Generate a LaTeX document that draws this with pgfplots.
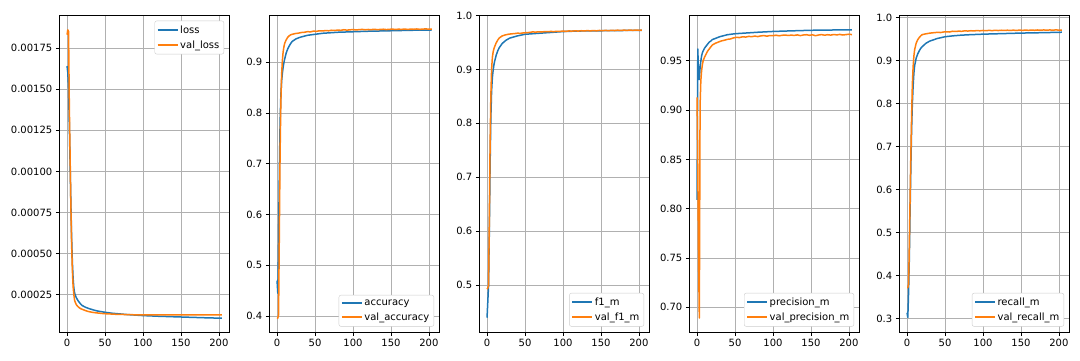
\documentclass[border=0pt]{standalone}
\usepackage{fontspec}
\setmainfont{DejaVu Sans}
\usepackage{pgfplots}
\pgfplotsset{compat=1.18}
\definecolor{mblue}{HTML}{1F77B4}
\definecolor{morange}{HTML}{FF7F0E}
\definecolor{mgrid}{HTML}{B0B0B0}
\definecolor{mleg}{HTML}{CCCCCC}
\pgfplotsset{
  mpl/.style={
    scale only axis, width=170.4pt, height=317.3pt,
    xmin=-10.2, xmax=214.2, xtick={0,50,100,150,200},
    grid=major, major grid style={color=mgrid, line width=0.8pt},
    axis line style={line width=0.8pt},
    every tick/.style={black, line width=0.8pt},
    tick align=outside, major tick length=3.5pt,
    xtick pos=bottom, ytick pos=left,
    ticklabel style={font=\fontsize{10}{12}\selectfont},
    scaled ticks=false,
    /pgf/number format/assume math mode=true,
    legend cell align=left,
    legend style={draw=mleg, rounded corners=2pt, fill=white,
      font=\fontsize{10}{12}\selectfont, inner sep=3pt, row sep=3pt, column sep=1pt,
      nodes={inner sep=1.5pt}},
  },
  legtop/.style={legend style={at={(0.967,0.982)}, anchor=north east}},
  legbot/.style={legend style={at={(0.967,0.018)}, anchor=south east}},
  lb/.style={legend image code/.code={\node[inner sep=0pt, outer sep=0pt, anchor=west, draw=none, fill=none] at (0pt,0pt) {\textcolor{mblue}{\rule[-1pt]{20pt}{2pt}}};}},
  lo/.style={legend image code/.code={\node[inner sep=0pt, outer sep=0pt, anchor=west, draw=none, fill=none] at (0pt,0pt) {\textcolor{morange}{\rule[-1pt]{20pt}{2pt}}};}},
}
\begin{document}
\begin{tikzpicture}
\path[use as bounding box] (0,0) rectangle (1080pt,360pt);
% ---------------- loss
\begin{axis}[mpl, legtop, at={(59.3pt,27.7pt)}, anchor=south west,
  ymin=0.0000225, ymax=0.00195,
  ytick={0.00025,0.0005,0.00075,0.001,0.00125,0.0015,0.00175},
  yticklabels={0.00025,0.00050,0.00075,0.00100,0.00125,0.00150,0.00175}]
\addlegendimage{lb}\addlegendimage{lo}
\addplot[forget plot, draw=mblue, line width=1.5pt, line join=round] coordinates {(0,0.00164)(1,0.00160)(2,0.00150)(3,0.00128)(4,0.00105)(5,0.00082)(6,0.00060)(7,0.00045)(8,0.00035)(9,0.00029)(10,0.00026)(12,0.000235)(14,0.000218)(16,0.000205)(18,0.000194)(20,0.000185)(25,0.000173)(30,0.000165)(35,0.000158)(40,0.000152)(45,0.000148)(50,0.000144)(60,0.000138)(70,0.000134)(80,0.000130)(90,0.000127)(100,0.000124)(120,0.000120)(140,0.000117)(160,0.000114)(180,0.000111)(204,0.000108)};
\addplot[forget plot, draw=morange, line width=1.5pt, line join=round] coordinates {(0,0.00183)(1,0.00186)(2,0.00185)(3,0.00140)(4,0.00110)(5,0.00080)(6,0.00056)(7,0.00040)(8,0.00030)(9,0.000250)(10,0.000215)(12,0.000192)(14,0.000180)(16,0.000172)(18,0.000166)(20,0.000162)(24,0.000155)(28,0.000149)(32,0.000145)(36,0.000142)(40,0.000140)(48,0.000136)(56,0.000134)(64,0.000132)(72,0.000131)(80,0.000130)(88,0.000129)(96,0.000129)(104,0.000128)(112,0.000129)(120,0.000128)(128,0.000129)(136,0.000128)(144,0.000129)(152,0.000128)(160,0.000129)(168,0.000128)(176,0.000129)(184,0.000128)(192,0.000129)(200,0.000128)(204,0.000129)};
\legend{loss,val\_loss}
\end{axis}
% ---------------- accuracy
\begin{axis}[mpl, legbot, at={(269.3pt,27.7pt)}, anchor=south west,
  ymin=0.368, ymax=0.993,
  ytick={0.4,0.5,0.6,0.7,0.8,0.9}, yticklabels={0.4,0.5,0.6,0.7,0.8,0.9}]
\addlegendimage{lb}\addlegendimage{lo}
\addplot[forget plot, draw=mblue, line width=1.5pt, line join=round] coordinates {(0,0.470)(1,0.445)(2,0.550)(3,0.680)(4,0.780)(5,0.835)(6,0.862)(7,0.878)(8,0.890)(9,0.899)(10,0.906)(12,0.918)(14,0.926)(16,0.932)(18,0.937)(20,0.941)(25,0.946)(30,0.949)(40,0.953)(50,0.955)(60,0.957)(70,0.958)(80,0.959)(100,0.960)(120,0.961)(150,0.962)(180,0.963)(204,0.9635)};
\addplot[forget plot, draw=morange, line width=1.5pt, line join=round] coordinates {(0,0.397)(1,0.396)(2,0.402)(3,0.560)(4,0.720)(5,0.820)(6,0.875)(7,0.903)(8,0.920)(9,0.930)(10,0.937)(12,0.944)(14,0.949)(16,0.952)(18,0.954)(20,0.9550)(24,0.9565)(28,0.9572)(32,0.9585)(36,0.9590)(40,0.9602)(44,0.9598)(48,0.9612)(52,0.9608)(56,0.9620)(60,0.9615)(64,0.9624)(68,0.9619)(72,0.9630)(76,0.9625)(80,0.9634)(84,0.9628)(88,0.9640)(92,0.9632)(96,0.9638)(100,0.9643)(104,0.9636)(108,0.9641)(112,0.9647)(116,0.9639)(120,0.9645)(124,0.9642)(128,0.9649)(132,0.9641)(136,0.9646)(140,0.9650)(144,0.9643)(148,0.9648)(152,0.9652)(156,0.9645)(160,0.9651)(164,0.9647)(168,0.9654)(172,0.9646)(176,0.9652)(180,0.9649)(184,0.9655)(188,0.9648)(192,0.9653)(196,0.9656)(200,0.9650)(204,0.9652)};
\legend{accuracy,val\_accuracy}
\end{axis}
% ---------------- f1
\begin{axis}[mpl, legbot, at={(479.3pt,27.7pt)}, anchor=south west,
  ymin=0.413, ymax=1.0007,
  ytick={0.5,0.6,0.7,0.8,0.9,1.0}, yticklabels={0.5,0.6,0.7,0.8,0.9,1.0}]
\addlegendimage{lb}\addlegendimage{lo}
\addplot[forget plot, draw=mblue, line width=1.5pt, line join=round] coordinates {(0,0.440)(1,0.470)(2,0.500)(3,0.600)(4,0.720)(5,0.810)(6,0.860)(7,0.885)(8,0.898)(9,0.908)(10,0.915)(12,0.926)(14,0.934)(16,0.940)(18,0.944)(20,0.948)(25,0.954)(30,0.958)(40,0.962)(50,0.965)(60,0.966)(70,0.967)(80,0.968)(100,0.970)(120,0.971)(150,0.9715)(180,0.972)(204,0.972)};
\addplot[forget plot, draw=morange, line width=1.5pt, line join=round] coordinates {(0,0.493)(1,0.495)(2,0.500)(3,0.620)(4,0.760)(5,0.850)(6,0.900)(7,0.922)(8,0.932)(9,0.938)(10,0.942)(12,0.949)(14,0.954)(16,0.958)(18,0.960)(20,0.9620)(24,0.9638)(28,0.9650)(32,0.9658)(36,0.9662)(40,0.9670)(44,0.9668)(48,0.9676)(52,0.9680)(56,0.9684)(60,0.9694)(64,0.9690)(68,0.9696)(72,0.9692)(76,0.9700)(80,0.9697)(84,0.9703)(88,0.9699)(92,0.9706)(96,0.9702)(100,0.9710)(104,0.9704)(108,0.9712)(112,0.9708)(116,0.9714)(120,0.9709)(124,0.9716)(128,0.9711)(132,0.9718)(136,0.9713)(140,0.9719)(144,0.9714)(148,0.9721)(152,0.9716)(156,0.9722)(160,0.9717)(164,0.9724)(168,0.9719)(172,0.9726)(176,0.9720)(180,0.9727)(184,0.9722)(188,0.9728)(192,0.9723)(196,0.9729)(200,0.9724)(204,0.9726)};
\legend{f1\_m,val\_f1\_m}
\end{axis}
% ---------------- precision
\begin{axis}[mpl, legbot, at={(689.3pt,27.7pt)}, anchor=south west,
  ymin=0.6745, ymax=0.9965,
  ytick={0.70,0.75,0.80,0.85,0.90,0.95}, yticklabels={0.70,0.75,0.80,0.85,0.90,0.95}]
\addlegendimage{lb}\addlegendimage{lo}
\addplot[forget plot, draw=mblue, line width=1.5pt, line join=round] coordinates {(0,0.809)(1,0.962)(2,0.935)(3,0.931)(4,0.943)(5,0.950)(6,0.955)(7,0.958)(8,0.960)(9,0.9615)(10,0.963)(12,0.965)(14,0.967)(16,0.969)(18,0.970)(20,0.9715)(25,0.973)(30,0.9745)(40,0.9765)(50,0.9775)(60,0.978)(70,0.9785)(80,0.979)(100,0.9798)(120,0.9803)(150,0.981)(180,0.9813)(204,0.9815)};
\addplot[forget plot, draw=morange, line width=1.5pt, line join=round] coordinates {(0,0.913)(1,0.840)(2,0.750)(3,0.689)(4,0.905)(5,0.930)(6,0.940)(7,0.946)(8,0.950)(9,0.952)(10,0.954)(12,0.957)(14,0.960)(16,0.962)(18,0.964)(20,0.9660)(24,0.9678)(28,0.9690)(32,0.9702)(36,0.9709)(40,0.9718)(44,0.9722)(48,0.9733)(52,0.9738)(56,0.9736)(60,0.9744)(64,0.9741)(68,0.9748)(72,0.9745)(76,0.9751)(80,0.9746)(84,0.9753)(88,0.9756)(92,0.9750)(96,0.9757)(100,0.9755)(104,0.9760)(108,0.9754)(112,0.9759)(116,0.9762)(120,0.9757)(124,0.9761)(128,0.9758)(132,0.9763)(136,0.9756)(140,0.9762)(144,0.9765)(148,0.9759)(152,0.9764)(156,0.9755)(160,0.9762)(164,0.9766)(168,0.9760)(172,0.9765)(176,0.9761)(180,0.9767)(184,0.9763)(188,0.9768)(192,0.9762)(196,0.9766)(200,0.9770)(204,0.9766)};
\legend{precision\_m,val\_precision\_m}
\end{axis}
% ---------------- recall
\begin{axis}[mpl, legbot, at={(899.3pt,27.7pt)}, anchor=south west,
  ymin=0.2685, ymax=1.0055,
  ytick={0.3,0.4,0.5,0.6,0.7,0.8,0.9,1.0}, yticklabels={0.3,0.4,0.5,0.6,0.7,0.8,0.9,1.0}]
\addlegendimage{lb}\addlegendimage{lo}
\addplot[forget plot, draw=mblue, line width=1.5pt, line join=round] coordinates {(0,0.314)(1,0.303)(2,0.360)(3,0.440)(4,0.550)(5,0.650)(6,0.740)(7,0.800)(8,0.840)(9,0.870)(10,0.888)(12,0.905)(14,0.915)(16,0.922)(18,0.928)(20,0.932)(25,0.940)(30,0.945)(40,0.951)(50,0.955)(60,0.957)(70,0.9585)(80,0.9595)(100,0.961)(120,0.962)(150,0.9635)(180,0.9645)(204,0.9655)};
\addplot[forget plot, draw=morange, line width=1.5pt, line join=round] coordinates {(0,0.372)(1,0.372)(2,0.380)(3,0.470)(4,0.580)(5,0.680)(6,0.770)(7,0.845)(8,0.885)(9,0.910)(10,0.925)(12,0.940)(14,0.948)(16,0.953)(18,0.957)(20,0.9600)(24,0.9615)(28,0.9628)(32,0.9638)(36,0.9645)(40,0.9652)(44,0.9648)(48,0.9660)(52,0.9665)(56,0.9660)(60,0.9678)(64,0.9672)(68,0.9680)(72,0.9676)(76,0.9688)(80,0.9682)(84,0.9690)(88,0.9685)(92,0.9693)(96,0.9688)(100,0.9696)(104,0.9690)(108,0.9698)(112,0.9692)(116,0.9699)(120,0.9694)(124,0.9701)(128,0.9695)(132,0.9702)(136,0.9696)(140,0.9703)(144,0.9697)(148,0.9704)(152,0.9698)(156,0.9705)(160,0.9699)(164,0.9706)(168,0.9700)(172,0.9707)(176,0.9701)(180,0.9708)(184,0.9702)(188,0.9708)(192,0.9703)(196,0.9709)(200,0.9704)(204,0.9706)};
\legend{recall\_m,val\_recall\_m}
\end{axis}
\end{tikzpicture}
\end{document}
